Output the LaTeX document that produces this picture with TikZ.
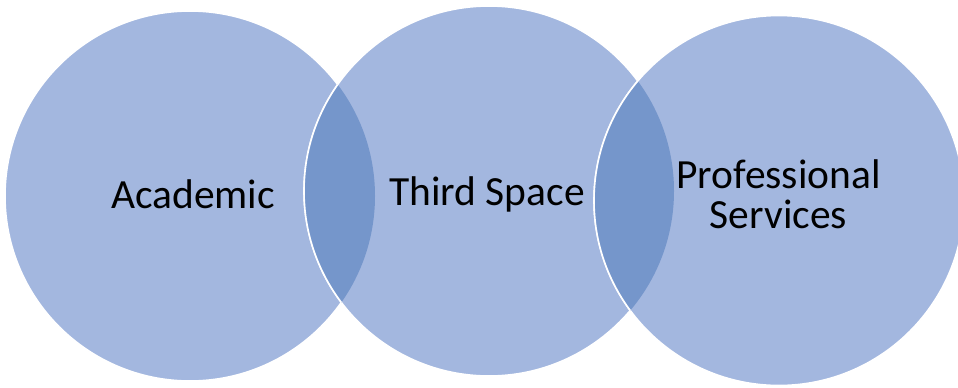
\documentclass[tikz,border=0pt]{standalone}
\usepackage{fontspec}
\setmainfont{Carlito}
\definecolor{ringfill}{HTML}{A3B7DF}
\definecolor{lensfill}{HTML}{7596CB}
\begin{document}
\begin{tikzpicture}[x=1pt,y=-1pt,
  ring/.style={fill=ringfill,draw=white,line width=1.6pt},
  rim/.style={draw=white,line width=1.6pt},
  label/.style={inner sep=0pt,anchor=base,font=\fontsize{41.5}{40}\selectfont,text=black}]
\useasboundingbox (0,0) rectangle (958,388);
\coordinate (c1) at (190,196);
\coordinate (c2) at (489,191);
\coordinate (c3) at (779,200.5);
\path[ring] (c1) circle[radius=185];
\path[ring] (c2) circle[radius=185];
\path[ring] (c3) circle[radius=185];
\begin{scope}
  \clip (c1) circle[radius=185];
  \fill[lensfill] (c2) circle[radius=185];
  \path[rim] (c2) circle[radius=185];
\end{scope}
\begin{scope}
  \clip (c2) circle[radius=185];
  \fill[lensfill] (c3) circle[radius=185];
  \path[rim] (c3) circle[radius=185];
\end{scope}
\node[label] (academic) at (193,208) {Academic};
\node[label] (third) at (487,205) {Third Space};
\node[label] (prof) at (778.5,188.3) {Professional};
\node[label] (serv) at (778.5,228.3) {Services};
\end{tikzpicture}
\end{document}
